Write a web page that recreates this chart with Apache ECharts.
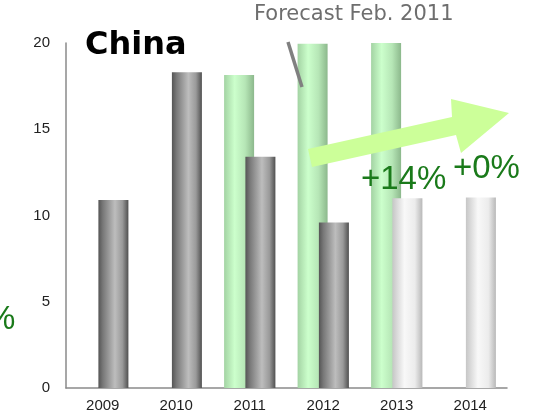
<!DOCTYPE html>
<html>
<head>
<meta charset="utf-8">
<script src="https://cdn.jsdelivr.net/npm/echarts@6/dist/echarts.min.js"></script>
<style>html,body{margin:0;padding:0;background:#fff}#c{width:540px;height:414px}</style>
</head>
<body>
<div id="c"></div>
<script>
var categories = ['2009', '2010', '2011', '2012', '2013', '2014'];
var forecastFeb2011 = [null, null, 18.15, 19.95, 20, null];
var actual = [10.9, 18.3, 13.4, 9.6, null, null];
var previousForecast = [null, null, null, null, 11.0, 11.05];
var yTicks = [0, 5, 10, 15, 20];

function grad(stops) {
  return new echarts.graphic.LinearGradient(0, 0, 1, 0, stops.map(function (s) { return { offset: s[0], color: s[1] }; }));
}
var greenFill = grad([[0, '#a3d3a3'], [0.35, '#ccffcc'], [0.7, '#b6e6b6'], [1, '#8cb88c']]);
var grayFill = grad([[0, '#555555'], [0.15, '#787878'], [0.55, '#bdbdbd'], [0.8, '#9a9a9a'], [1, '#505050']]);
var whiteFill = grad([[0, '#c6c6c6'], [0.4, '#f8f8f8'], [0.75, '#ececec'], [1, '#b8b8b8']]);

var chart = echarts.init(document.getElementById('c'), null, { renderer: 'canvas' });
chart.setOption({
  animation: false,
  backgroundColor: '#ffffff',
  grid: { left: 66, right: 33, top: 43, bottom: 26 },
  xAxis: {
    type: 'category',
    data: categories,
    axisLine: { lineStyle: { color: '#8a8a8a', width: 1.5 } },
    axisTick: { show: false },
    axisLabel: { color: '#222', fontFamily: 'Liberation Sans', fontSize: 15, margin: 10 }
  },
  yAxis: {
    type: 'value',
    min: yTicks[0],
    max: yTicks[yTicks.length - 1],
    interval: 5,
    splitLine: { show: false },
    axisLine: { show: true, lineStyle: { color: '#8a8a8a', width: 1.5 } },
    axisTick: { show: false },
    axisLabel: { color: '#222', fontFamily: 'Liberation Sans', fontSize: 15, margin: 16 }
  },
  series: [
    { name: 'Forecast Feb. 2011', type: 'bar', data: forecastFeb2011, barWidth: 30, barGap: '-29%', itemStyle: { color: greenFill } },
    { name: 'Actual', type: 'bar', stack: 'r', data: actual, barWidth: 30, barGap: '-29%', itemStyle: { color: grayFill } },
    { name: 'Previous', type: 'bar', stack: 'r', data: previousForecast, barWidth: 30, barGap: '-29%', itemStyle: { color: whiteFill } }
  ],
  graphic: [
    { type: 'text', left: 85, top: 30, z: 10, style: { text: 'China', font: 'bold 32px "DejaVu Sans"', fill: '#000' } },
    { type: 'text', left: 254, top: 4, z: 10, style: { text: 'Forecast Feb. 2011', font: '21px "DejaVu Sans"', fill: '#6e6e6e' } },
    { type: 'line', z: 10, shape: { x1: 288, y1: 42, x2: 302, y2: 87 }, style: { stroke: '#808080', lineWidth: 3.5 } },
    { type: 'polygon', z: 10, shape: { points: [[308, 149], [452, 117], [451, 99], [509, 113], [461, 153], [456, 135], [312, 167]] }, style: { fill: '#ccff99' } },
    { type: 'text', left: 361, top: 163, z: 11, style: { text: '+14%', font: '33px "Liberation Sans"', fill: '#1a7a1a' } },
    { type: 'text', left: 453, top: 152, z: 11, style: { text: '+0%', font: '33px "Liberation Sans"', fill: '#1a7a1a' } },
    { type: 'text', left: -14, top: 303, z: 11, style: { text: '%', font: '33px "Liberation Sans"', fill: '#1a7a1a' } }
  ]
});
</script>
</body>
</html>
